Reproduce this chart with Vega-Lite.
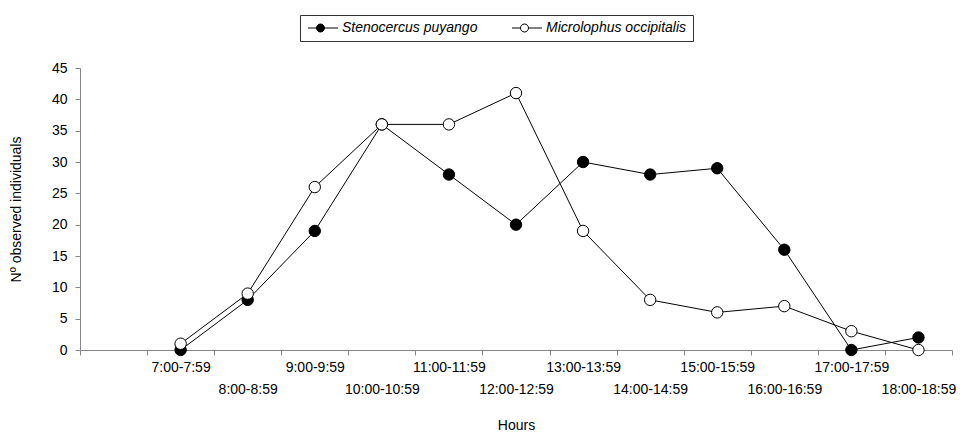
{
  "$schema": "https://vega.github.io/schema/vega-lite/v6.json",
  "width": 872,
  "height": 282,
  "padding": {"left": 80, "top": 68, "right": 8, "bottom": 86},
  "autosize": {"type": "none"},
  "background": "white",
  "config": {
    "view": {"stroke": null},
    "font": "Liberation Sans",
    "axis": {
      "labelFont": "Liberation Sans",
      "titleFont": "Liberation Sans",
      "labelFontSize": 14,
      "titleFontSize": 14,
      "titleFontWeight": "normal",
      "labelColor": "black",
      "titleColor": "black",
      "domainColor": "#868686",
      "tickColor": "#868686",
      "grid": false
    }
  },
  "data": {
    "values": [
      {"hour": "7:00-7:59", "species": "Stenocercus puyango", "n": 0},
      {"hour": "8:00-8:59", "species": "Stenocercus puyango", "n": 8},
      {"hour": "9:00-9:59", "species": "Stenocercus puyango", "n": 19},
      {"hour": "10:00-10:59", "species": "Stenocercus puyango", "n": 36},
      {"hour": "11:00-11:59", "species": "Stenocercus puyango", "n": 28},
      {"hour": "12:00-12:59", "species": "Stenocercus puyango", "n": 20},
      {"hour": "13:00-13:59", "species": "Stenocercus puyango", "n": 30},
      {"hour": "14:00-14:59", "species": "Stenocercus puyango", "n": 28},
      {"hour": "15:00-15:59", "species": "Stenocercus puyango", "n": 29},
      {"hour": "16:00-16:59", "species": "Stenocercus puyango", "n": 16},
      {"hour": "17:00-17:59", "species": "Stenocercus puyango", "n": 0},
      {"hour": "18:00-18:59", "species": "Stenocercus puyango", "n": 2},
      {"hour": "7:00-7:59", "species": "Microlophus occipitalis", "n": 1},
      {"hour": "8:00-8:59", "species": "Microlophus occipitalis", "n": 9},
      {"hour": "9:00-9:59", "species": "Microlophus occipitalis", "n": 26},
      {"hour": "10:00-10:59", "species": "Microlophus occipitalis", "n": 36},
      {"hour": "11:00-11:59", "species": "Microlophus occipitalis", "n": 36},
      {"hour": "12:00-12:59", "species": "Microlophus occipitalis", "n": 41},
      {"hour": "13:00-13:59", "species": "Microlophus occipitalis", "n": 19},
      {"hour": "14:00-14:59", "species": "Microlophus occipitalis", "n": 8},
      {"hour": "15:00-15:59", "species": "Microlophus occipitalis", "n": 6},
      {"hour": "16:00-16:59", "species": "Microlophus occipitalis", "n": 7},
      {"hour": "17:00-17:59", "species": "Microlophus occipitalis", "n": 3},
      {"hour": "18:00-18:59", "species": "Microlophus occipitalis", "n": 0}
    ]
  },
  "encoding": {
    "x": {
      "field": "hour",
      "type": "ordinal",
      "sort": null,
      "scale": {
        "type": "band",
        "paddingInner": 0,
        "paddingOuter": 0,
        "domain": [" ", "7:00-7:59", "8:00-8:59", "9:00-9:59", "10:00-10:59", "11:00-11:59", "12:00-12:59", "13:00-13:59", "14:00-14:59", "15:00-15:59", "16:00-16:59", "17:00-17:59", "18:00-18:59"]
      },
      "axis": {
        "title": "Hours",
        "labelAngle": 0,
        "tickBand": "extent",
        "tickSize": 5,
        "labelPadding": 5,
        "labelOverlap": false,
        "labelLineHeight": 22,
        "labelExpr": "datum.index > 0 && round(datum.index * 12) % 2 == 0 ? ['', datum.label] : datum.label",
        "titlePadding": 22
      }
    },
    "y": {
      "field": "n",
      "type": "quantitative",
      "scale": {"domain": [0, 45]},
      "axis": {
        "title": "Nº observed individuals",
        "values": [0, 5, 10, 15, 20, 25, 30, 35, 40, 45],
        "tickSize": 5,
        "labelPadding": 8,
        "titlePadding": 28
      }
    }
  },
  "layer": [
    {
      "mark": {"type": "line", "stroke": "black", "strokeWidth": 1},
      "encoding": {"detail": {"field": "species"}}
    },
    {
      "mark": {"type": "point", "filled": true, "stroke": "black", "strokeWidth": 1, "size": 130, "opacity": 1},
      "encoding": {
        "fill": {
          "field": "species",
          "type": "nominal",
          "scale": {"domain": ["Stenocercus puyango", "Microlophus occipitalis"], "range": ["black", "white"]},
          "legend": {
            "title": null,
            "orient": "none",
            "direction": "horizontal",
            "legendX": 220,
            "legendY": -53,
            "strokeColor": "#333333",
            "padding": 6,
            "symbolType": "M-1,0H0.7M2.3,0H5M2.3,0A0.8,0.8,0,1,1,0.7,0A0.8,0.8,0,1,1,2.3,0Z",
            "symbolSize": 100,
            "symbolStrokeColor": "black",
            "symbolStrokeWidth": 1,
            "symbolOpacity": 1,
            "labelOffset": 22,
            "labelFont": "Liberation Sans",
            "labelFontSize": 14,
            "labelFontStyle": "italic",
            "labelColor": "black",
            "labelExpr": "datum.index > 0.5 ? datum.label + '\u00a0\u00a0\u00a0\u00a0\u00a0\u00a0\u00a0' : datum.label",
            "columnPadding": 32,
            "labelLimit": 300
          }
        }
      }
    }
  ]
}
